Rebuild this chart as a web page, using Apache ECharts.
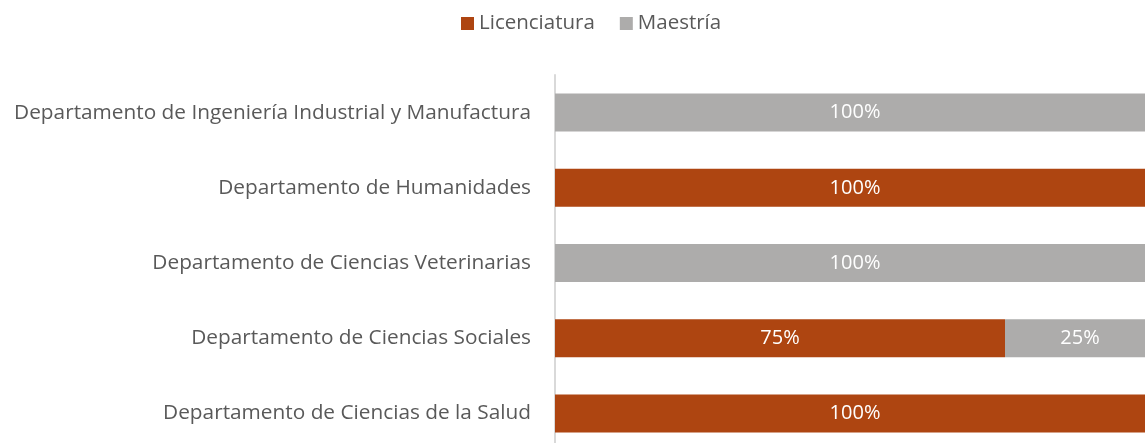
<!DOCTYPE html>
<html>
<head>
<meta charset="utf-8">
<script src="https://cdn.jsdelivr.net/npm/echarts@6/dist/echarts.min.js"></script>
<style>
  html, body { margin: 0; padding: 0; background: #fff; overflow: hidden; }
  /* the original plot runs a little past the bottom and right edges, so the canvas is larger than the window */
  #chart { width: 1155px; height: 451px; }
</style>
</head>
<body>
<div id="chart"></div>
<script>
// categories from bottom to top (ECharts category y axis draws first item at the bottom)
const departamentos = [
  'Departamento de Ciencias de la Salud',
  'Departamento de Ciencias Sociales',
  'Departamento de Ciencias Veterinarias',
  'Departamento de Humanidades',
  'Departamento de Ingeniería Industrial y Manufactura'
];
const licenciatura = [100, 75, 0, 100, 0];
const maestria = [0, 25, 100, 0, 100];

const fontFam = '"Open Sans", "Noto Sans", sans-serif';

const chart = echarts.init(document.getElementById('chart'));

const labelCfg = {
  show: true,
  position: 'inside',
  color: '#ffffff',
  fontSize: 20,
  fontFamily: fontFam,
  formatter: p => (p.value > 0 ? p.value + '%' : '')
};

chart.setOption({
  animation: false,
  legend: {
    top: 8,
    left: 456,
    itemWidth: 13,
    itemHeight: 13,
    itemGap: 25,
    icon: 'rect',
    textStyle: { fontSize: 20.5, color: '#595959', fontFamily: fontFam },
    data: ['Licenciatura', 'Maestría']
  },
  grid: {
    left: 555,
    right: 0,
    top: 75,
    bottom: 0,
    containLabel: false
  },
  xAxis: {
    type: 'value',
    min: 0,
    max: 100,
    show: false
  },
  yAxis: {
    type: 'category',
    data: departamentos,
    axisTick: { show: false },
    axisLine: { show: true, lineStyle: { color: '#D9D9D9', width: 2 } },
    axisLabel: {
      fontSize: 20.8,
      color: '#595959',
      fontFamily: fontFam,
      margin: 24
    }
  },
  series: [
    {
      name: 'Licenciatura',
      type: 'bar',
      stack: 'total',
      barWidth: 38,
      itemStyle: { color: '#AE4511' },
      label: labelCfg,
      data: licenciatura
    },
    {
      name: 'Maestría',
      type: 'bar',
      stack: 'total',
      barWidth: 38,
      itemStyle: { color: '#ADACAB' },
      label: labelCfg,
      data: maestria
    }
  ]
});
</script>
</body>
</html>
